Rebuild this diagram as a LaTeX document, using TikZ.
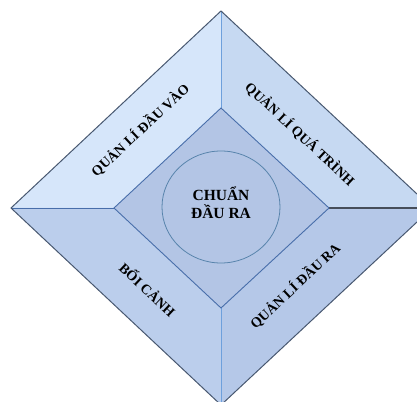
\documentclass[tikz,border=0pt]{standalone}
\usepackage{fontspec}
\setmainfont{Liberation Serif}

\definecolor{outerline}{RGB}{72,88,112}
\definecolor{innerline}{RGB}{72,110,170}
\definecolor{splitline}{RGB}{110,160,220}
\definecolor{darkline}{RGB}{70,78,90}
\definecolor{fillTL}{RGB}{214,230,250}
\definecolor{fillTR}{RGB}{198,217,242}
\definecolor{fillBL}{RGB}{187,206,236}
\definecolor{fillBR}{RGB}{181,200,232}
\definecolor{fillmid}{RGB}{179,197,229}
\definecolor{ringline}{RGB}{88,132,172}

\tikzset{
  sidelabel/.style={font=\bfseries\fontsize{14}{16}\selectfont, inner sep=0pt},
  midlabel/.style={font=\bfseries\fontsize{15.5}{18}\selectfont, align=center, inner sep=0pt}
}

\begin{document}
\begin{tikzpicture}[x=1pt,y=1pt]

% Frame
\useasboundingbox (-221,-193) rectangle (196,208);
\clip (-221,-193) rectangle (196,208);

% Corners
\coordinate (outT) at (0,197);
\coordinate (outL) at (-210,0);
\coordinate (outR) at (211,0);
\coordinate (outB) at (0,-197);
\coordinate (inT) at (0,100);
\coordinate (inL) at (-107,0);
\coordinate (inR) at (108,0);
\coordinate (inB) at (0,-100);

% Four sides
\fill[fillTL] (outL) -- (outT) -- (inT) -- (inL) -- cycle;
\fill[fillTR] (outT) -- (outR) -- (inR) -- (inT) -- cycle;
\fill[fillBL] (outL) -- (inL) -- (inB) -- (outB) -- cycle;
\fill[fillBR] (inB) -- (inR) -- (outR) -- (outB) -- cycle;

% Middle
\fill[fillmid] (inT) -- (inR) -- (inB) -- (inL) -- cycle;

% Dividers
\draw[splitline, line width=1pt] (outT) -- (inT);
\draw[splitline, line width=1pt] (outB) -- (inB);
\draw[innerline, line width=0.9pt] (outL) -- (inL);
\draw[darkline, line width=1.1pt] (outR) -- (inR);
\draw[innerline, line width=0.9pt] (inT) -- (inR) -- (inB) -- (inL) -- cycle;
\draw[outerline, line width=1pt] (outT) -- (outR) -- (outB) -- (outL) -- cycle;

% Ring
\draw[ringline, fill=fillmid, line width=0.8pt] (0,1) ellipse (59 and 56);

% Labels
\node[sidelabel, rotate=43] (vao) at (-81,78) {QUẢN LÍ ĐẦU VÀO};
\node[sidelabel, rotate=-43] (trinh) at (79,74) {QUẢN LÍ QUÁ TRÌNH};
\node[sidelabel, rotate=-43] (boicanh) at (-73,-81) {BỐI CẢNH};
\node[sidelabel, rotate=43] (ra) at (74,-78) {QUẢN LÍ ĐẦU RA};
\node[midlabel] (chuan) at (0,5) {CHUẨN\\ĐẦU RA};

\end{tikzpicture}
\end{document}
